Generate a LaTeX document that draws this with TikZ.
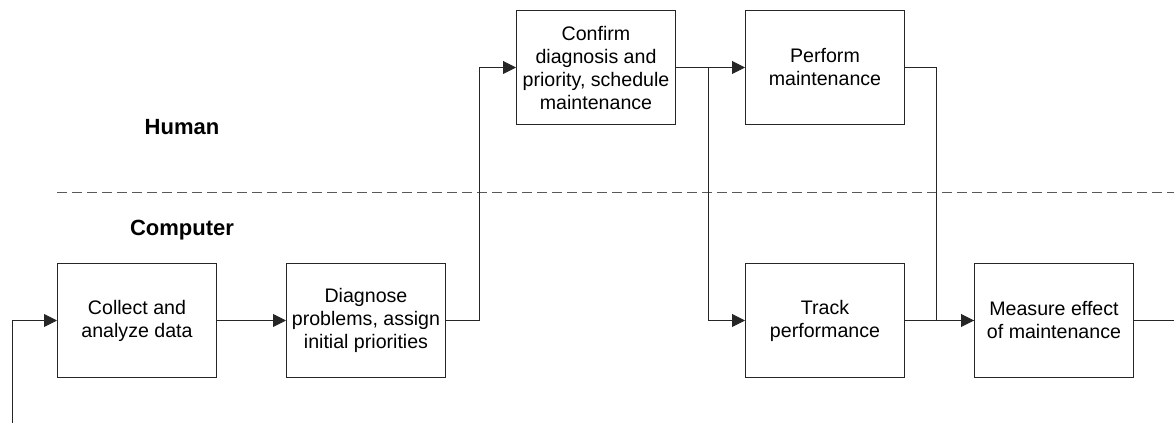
\documentclass[tikz,border=0pt]{standalone}
\usepackage{fontspec}
\setmainfont{Liberation Sans}
\usetikzlibrary{positioning,arrows.meta}

\begin{document}
\begin{tikzpicture}[
  x=0.5pt, y=0.5pt,
  node distance=69pt and 34.5pt,
  task/.style ={draw=black!85, line width=0.5pt, minimum width=79.5pt,
                minimum height=57pt, align=center, inner sep=2pt,
                font=\fontsize{9.8}{11.5}\selectfont},
  lane/.style ={font=\fontsize{11}{13}\selectfont\bfseries},
  arr/.style  ={-{Triangle[length=6.5pt,width=6.5pt]}, line width=0.5pt, draw=black!85},
  wire/.style ={line width=0.5pt, draw=black!85}
]
\useasboundingbox (0,0) rectangle (1174,423);

\node[task] (collect) at (137,102.5) {Collect and\\ analyze data};
\node[task, right=of collect] (diagnose) {Diagnose\\ problems, assign\\ initial priorities};
\node[task, above right=69pt and 35pt of diagnose] (confirm) {Confirm\\ diagnosis and\\ priority, schedule\\ maintenance};
\node[task, right=of confirm] (perform) {Perform\\ maintenance};
\node[task, below=of perform] (track) {Track\\ performance};
\node[task, right=of track] (measure) {Measure effect\\ of maintenance};

\node[lane] (human) at (182,296) {Human};
\node[lane] (computer) at (182,193) {Computer};

% lane divider
\coordinate (divl) at (57,230);
\coordinate (divr) at (1174,230);
\draw[dashed, dash pattern=on 5pt off 2.5pt, black!65, line width=0.5pt] (divl) -- (divr);

% loose ends
\coordinate (feed) at (12,0);
\coordinate (out) at (1174,102.5);

\draw[arr] (feed) |- (collect.west);
\draw[arr] (collect) -- (diagnose);
\draw[arr] (diagnose.east) -- ++(16.5pt,0) |- (confirm.west);
\draw[arr] (confirm) -- (perform);
\draw[arr] (confirm.east) -- ++(16pt,0) |- (track.west);
\draw[arr] (track) -- (measure);
\draw[wire] (perform.east) -- ++(15.5pt,0) |- (measure.west);
\draw[wire] (measure.east) -- (out);
\end{tikzpicture}
\end{document}
